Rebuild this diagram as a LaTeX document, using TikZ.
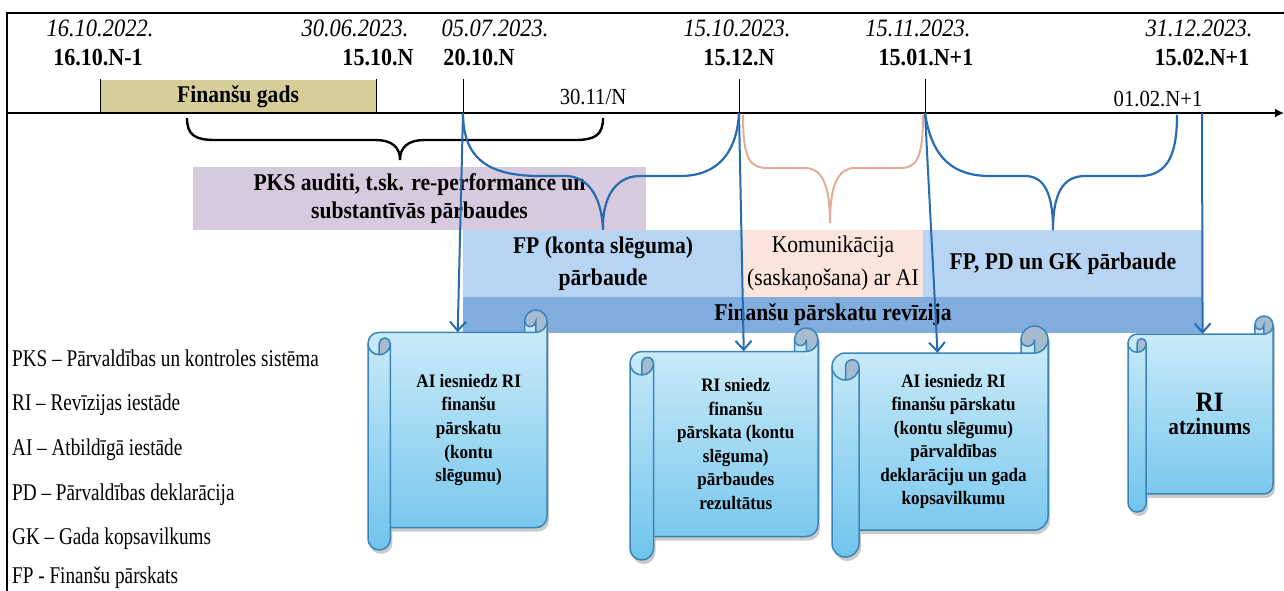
\documentclass[tikz,border=0pt]{standalone}
\usepackage{fontspec}
\setmainfont{Liberation Serif}[FakeStretch=0.9]
\newfontfamily\legendfont{Liberation Serif}[FakeStretch=0.8]
\usepackage{tikz}
\usetikzlibrary{arrows.meta,positioning}

\definecolor{gadsfill}{RGB}{214,206,152}
\definecolor{pksfill}{RGB}{215,201,222}
\definecolor{fpfill}{RGB}{183,213,242}
\definecolor{komfill}{RGB}{250,228,220}
\definecolor{revband}{RGB}{128,172,222}
\definecolor{lineblue}{RGB}{38,108,178}
\definecolor{bracepink}{RGB}{228,172,150}
\definecolor{scrolltop}{RGB}{210,238,250}
\definecolor{scrollbot}{RGB}{112,196,236}
\definecolor{scrolledge}{RGB}{58,132,184}
\definecolor{scrolldark}{RGB}{165,188,208}

% outline of a horizontal scroll, uses \scL \scT \scR \scB \scC \scH
\newcommand{\scrollpath}[1]{%
  \path[#1] (\scL,\scT+\scC+\scH)
    arc[start angle=180, end angle=270, radius=\scH]
    -- (\scR-\scC,\scT+\scC) -- (\scR-\scC,\scT+\scH)
    arc[start angle=180, end angle=360, radius=\scH]
    -- (\scR,\scB-\scC-\scH)
    arc[start angle=0, end angle=90, radius=\scH]
    -- (\scL+\scC,\scB-\scC) -- (\scL+\scC,\scB-\scH)
    arc[start angle=0, end angle=180, radius=\scH] -- cycle;}

% scroll with text node: name, left, top, right, bottom, text
\newcommand{\scrollnode}[6]{%
  \pgfmathsetmacro{\scL}{#2}\pgfmathsetmacro{\scT}{#3}%
  \pgfmathsetmacro{\scR}{#4}\pgfmathsetmacro{\scB}{#5}%
  \pgfmathsetmacro{\scC}{min(\scR-\scL,\scB-\scT)/8}%
  \pgfmathsetmacro{\scH}{\scC/2}\pgfmathsetmacro{\scQ}{\scC/4}%
  \scrollpath{fill=black!35, opacity=0.6, shift={(2,4)}}
  \scrollpath{top color=scrolltop, bottom color=scrollbot}
  \fill[scrolldark] (\scL+\scH,\scT+2*\scC) arc[start angle=90, end angle=0, radius=\scH]
    arc[start angle=0, end angle=-180, radius=\scQ] -- cycle;
  \fill[scrolldark] (\scR-\scH,\scT+\scC) arc[start angle=90, end angle=-180, radius=\scH]
    arc[start angle=180, end angle=0, radius=\scQ] -- cycle;
  \scrollpath{draw=scrolledge, line width=1.5pt}
  \draw[scrolledge, line width=1.5pt]
    (\scL+\scH,\scT+2*\scC) -- (\scL+\scH,\scT+\scC+\scH)
      arc[start angle=180, end angle=360, radius=\scQ]
      arc[start angle=0, end angle=180, radius=\scH]
    (\scL+\scC,\scT+\scC+\scH) -- (\scL+\scC,\scB-\scC)
    (\scR-\scC,\scT+\scC) -- (\scR-\scH,\scT+\scC)
      arc[start angle=90, end angle=0, radius=\scH]
    (\scR-\scH,\scT+\scC) -- (\scR-\scH,\scT+\scH)
      arc[start angle=0, end angle=180, radius=\scQ];
  \pgfmathsetmacro{\scW}{\scR-\scL-\scC}%
  \pgfmathsetmacro{\scV}{\scB-\scT-2*\scC}%
  \node[scrolltext, minimum width=\scW pt, minimum height=\scV pt] (#1)
    at ({(\scL+\scC+\scR)/2},{(\scT+\scB)/2}) {#6};
}

\begin{document}
\begin{tikzpicture}[x=1pt, y=-1pt,
    dateit/.style={font=\fontsize{25}{28}\selectfont\itshape, inner sep=0pt},
    datebf/.style={font=\fontsize{24.5}{28}\selectfont\bfseries, inner sep=0pt},
    box/.style={draw=none, inner sep=0pt, align=center},
    boldtext/.style={font=\fontsize{24}{32}\selectfont\bfseries},
    scrolltext/.style={inner sep=0pt, align=center, font=\fontsize{19}{23.5}\selectfont\bfseries},
    legendtext/.style={anchor=west, inner sep=0pt, font=\legendfont\fontsize{24}{26}\selectfont},
    ticklin/.style={black, line width=1pt},
    bluebrace/.style={lineblue, line width=2.2pt},
    arrow/.style={-{Straight Barb[length=9pt,width=16pt]}, lineblue, line width=2pt}
]
    \useasboundingbox (0,0) rectangle (1284,591);

    % Frame and time axis
    \coordinate (axisL) at (7,113);
    \coordinate (axisR) at (1284,113);
    \draw[line width=1.5pt] (7,591) -- (7,13) -- (1284,13);

    % Background boxes
    \node[box, fill=gadsfill, minimum width=276pt, minimum height=33pt, boldtext] (gads) at (238,96.5) {Finanšu gads};
    \node[box, fill=pksfill, minimum width=453pt, minimum height=63pt,
          font=\fontsize{24}{28}\selectfont\bfseries] (pks) at (419.5,198.5)
          {PKS auditi, t.sk. re-performance un\\substantīvās pārbaudes};
    \node[box, fill=fpfill, minimum width=280pt, minimum height=67pt, boldtext] (fpk) at (603,263.5)
          {FP (konta slēguma)\\pārbaude};
    \node[box, fill=komfill, minimum width=180pt, minimum height=67pt,
          font=\fontsize{24}{33}\selectfont] (kom) at (833,263.5)
          {Komunikācija\\(saskaņošana) ar AI};
    \node[box, fill=fpfill, minimum width=280pt, minimum height=67pt, boldtext] (fpgk) at (1063,263.5)
          {FP, PD un GK pārbaude};
    \node[box, fill=revband, minimum width=740pt, minimum height=36pt, boldtext] (rev) at (833,315)
          {Finanšu pārskatu revīzija};

    \draw[line width=2.6pt, -{Latex[length=9pt,width=9pt]}] (axisL) -- (axisR);

    % Dates
    \node[dateit] (d1it) at (100,28) {16.10.2022.};
    \node[dateit] (d2it) at (355,28) {30.06.2023.};
    \node[dateit] (d3it) at (495,28) {05.07.2023.};
    \node[dateit] (d4it) at (737,28) {15.10.2023.};
    \node[dateit] (d5it) at (918,28) {15.11.2023.};
    \node[dateit] (d6it) at (1199,28) {31.12.2023.};
    \node[datebf] (d1) at (98,58) {16.10.N-1};
    \node[datebf] (d2) at (378,58) {15.10.N};
    \node[datebf] (d3) at (479,58) {20.10.N};
    \node[datebf] (d4) at (739,58) {15.12.N};
    \node[datebf] (d5) at (926,58) {15.01.N+1};
    \node[datebf] (d6) at (1202,58) {15.02.N+1};
    \node[font=\fontsize{23}{26}\selectfont, inner sep=0pt] (d3011) at (593,97) {30.11/N};
    \node[font=\fontsize{23}{26}\selectfont, inner sep=0pt] (d0102) at (1158,99) {01.02.N+1};

    % Ticks on the axis
    \coordinate (a1610) at (100,113);
    \coordinate (a1510) at (376,113);
    \coordinate (a20) at (463,113);
    \coordinate (a1512) at (739,113);
    \coordinate (a1501) at (925,113);
    \coordinate (a0102) at (1202,113);
    \draw[ticklin] (a1610) -- ++(0,-34);
    \draw[ticklin] (a1510) -- ++(0,-34);
    \draw[ticklin] (a20) -- ++(0,-34);
    \draw[ticklin] (a1512) -- ++(0,-34);
    \draw[ticklin] (a1501) -- ++(0,-34);

    % Braces
    \draw[line width=2.4pt] (187,118) .. controls (187,135) and (195,140) .. (215,140) -- (375,140)
        .. controls (393,140) and (400,148) .. (400,160)
        .. controls (400,148) and (407,140) .. (425,140) -- (575,140)
        .. controls (595,140) and (603,135) .. (603,118);
    \draw[bluebrace] (a20) .. controls (463,160) and (490,176) .. (540,176) -- (565,176)
        .. controls (590,176) and (602,200) .. (fpk.north)
        .. controls (602,200) and (614,176) .. (640,176) -- (680,176)
        .. controls (720,176) and (737,150) .. (a1512);
    \draw[bracepink, line width=2pt] (743,115) .. controls (743,160) and (750,168) .. (768,168) -- (805,168)
        .. controls (822,168) and (830,185) .. (830,223)
        .. controls (830,185) and (838,168) .. (855,168) -- (900,168)
        .. controls (916,168) and (923,160) .. (923,115);
    \draw[bluebrace] (a1501) .. controls (932,160) and (955,176) .. (990,176) -- (1025,176)
        .. controls (1045,176) and (1053,195) .. (1053,230)
        .. controls (1053,195) and (1062,176) .. (1085,176) -- (1140,176)
        .. controls (1170,176) and (1177,150) .. (1177,115);

    % Scrolls
    \scrollnode{sc1}{368}{310}{547}{550}{AI iesniedz RI\\finanšu\\pārskatu\\(kontu\\slēgumu)}
    \scrollnode{sc2}{630}{328}{818}{560}{RI sniedz\\finanšu\\pārskata (kontu\\slēguma)\\pārbaudes\\rezultātus}
    \scrollnode{sc3}{832}{326}{1048}{557}{AI iesniedz RI\\finanšu pārskatu\\(kontu slēgumu)\\pārvaldības\\deklarāciju un gada\\kopsavilkumu}
    \scrollnode{sc4}{1128}{316}{1273}{512}{\fontsize{28}{31}\selectfont RI\\\fontsize{23.5}{31}\selectfont atzinums}

    % Arrows to scrolls
    \draw[arrow] (a20) -- ([xshift=-11pt]sc1.north);
    \draw[arrow] (a1512) -- ([xshift=8pt]sc2.north);
    \draw[arrow] (a1501) -- ([xshift=-16pt]sc3.north);
    \draw[arrow] (a0102) -- ([xshift=-7pt]sc4.north);

    % Legend
    \node[legendtext] (lgpks) at (12,358) {PKS – Pārvaldības un kontroles sistēma};
    \node[legendtext] (lgri) at (12,405) {RI – Revīzijas iestāde};
    \node[legendtext] (lgai) at (12,450) {AI – Atbildīgā iestāde};
    \node[legendtext] (lgpd) at (12,495) {PD – Pārvaldības deklarācija};
    \node[legendtext] (lggk) at (12,539) {GK – Gada kopsavilkums};
    \node[legendtext] (lgfp) at (12,578) {FP - Finanšu pārskats};

\end{tikzpicture}
\end{document}
